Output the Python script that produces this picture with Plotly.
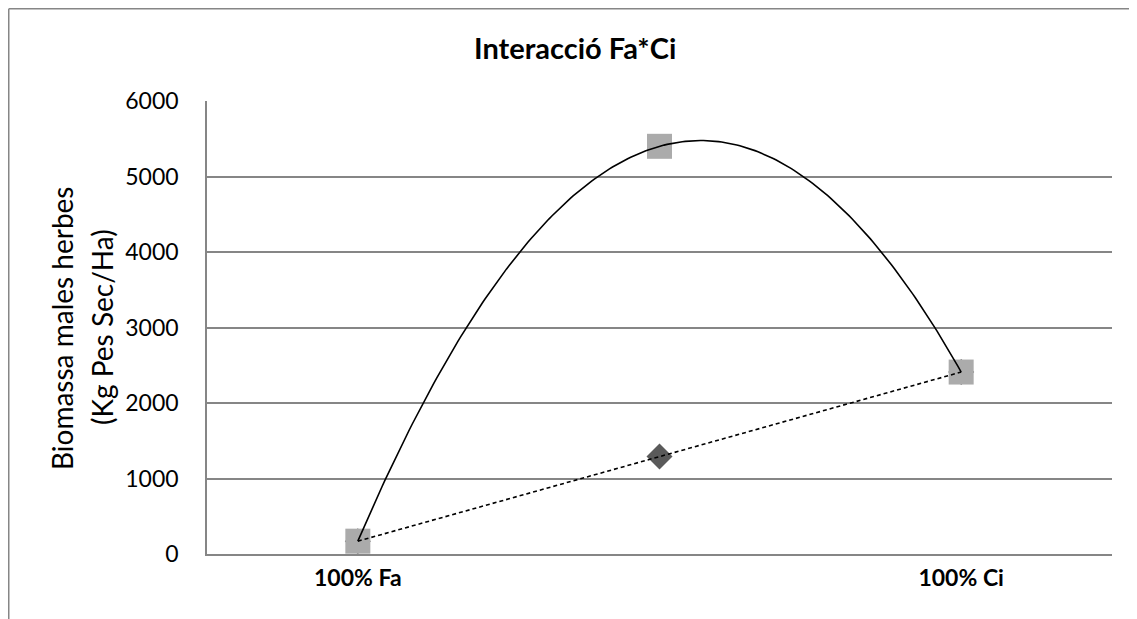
"""Interaction plot Fa*Ci: weed biomass, with Excel-style trendlines."""

import numpy as np
import plotly.graph_objects as go

# --- data -----------------------------------------------------------------
categories = ["100% Fa", "", "100% Ci"]
series_diamond = [170, 1290, 2410]   # dark grey diamonds (linear trendline)
series_square = [170, 5400, 2410]    # light grey squares (2nd order trendline)
y_ticks = [0, 1000, 2000, 3000, 4000, 5000, 6000]

title_text = "Interacció Fa*Ci"
y_title_lines = ["Biomassa males herbes", "(Kg Pes Sec/Ha)"]

# --- geometry (figure pixels; the page body adds an 8px offset) ------------
W, H = 1137, 619
PLOT_L, PLOT_R, PLOT_T, PLOT_B = 199, 1104, 93, 546
GREY = "#868686"
FONT = "Lato, 'Open Sans', sans-serif"


def px_x(px: float) -> float:
    return (px - PLOT_L) / (PLOT_R - PLOT_L)


def px_y(py: float) -> float:
    return (PLOT_B - py) / (PLOT_B - PLOT_T)


x_idx = np.arange(len(categories))

# trendlines as Excel draws them: fitted on the category index
quad = np.poly1d(np.polyfit(x_idx, series_square, 2))
lin = np.poly1d(np.polyfit(x_idx, series_diamond, 1))
x_fit = np.linspace(x_idx[0], x_idx[-1], 200)

fig = go.Figure()

fig.add_trace(
    go.Scatter(
        x=x_idx,
        y=series_diamond,
        mode="markers",
        marker=dict(symbol="diamond", size=20, color="#5a5a5a"),
        showlegend=False,
    )
)
fig.add_trace(
    go.Scatter(
        x=x_idx,
        y=series_square,
        mode="markers",
        marker=dict(symbol="square", size=25, color="#ababab"),
        showlegend=False,
    )
)
fig.add_trace(
    go.Scatter(
        x=x_fit,
        y=quad(x_fit),
        mode="lines",
        line=dict(color="black", width=1.6),
        showlegend=False,
        hoverinfo="skip",
    )
)
fig.add_trace(
    go.Scatter(
        x=x_fit,
        y=lin(x_fit),
        mode="lines",
        line=dict(color="black", width=1.6, dash="4px,3px"),
        showlegend=False,
        hoverinfo="skip",
    )
)

annotations = [
    dict(
        text=f"<b>{title_text}</b>",
        x=px_x(567), y=px_y(39), xref="paper", yref="paper",
        xanchor="center", yanchor="middle", showarrow=False,
        font=dict(family=FONT, size=29, color="black"),
    ),
    dict(
        text=y_title_lines[0],
        x=px_x(54), y=px_y(320), xref="paper", yref="paper",
        xanchor="center", yanchor="middle", showarrow=False, textangle=-90,
        font=dict(family=FONT, size=28, color="black"),
    ),
    dict(
        text=y_title_lines[1],
        x=px_x(94), y=px_y(319), xref="paper", yref="paper",
        xanchor="center", yanchor="middle", showarrow=False, textangle=-90,
        font=dict(family=FONT, size=28, color="black"),
    ),
]

# chart-area border: only its top and left edges are inside the window
border = dict(color=GREY, width=1.5)
shapes = [
    dict(type="line", xref="paper", yref="paper", layer="below",
         x0=px_x(0.75), x1=px_x(W + 40), y0=px_y(0.75), y1=px_y(0.75), line=border),
    dict(type="line", xref="paper", yref="paper", layer="below",
         x0=px_x(0.75), x1=px_x(0.75), y0=px_y(0.75), y1=px_y(H + 40), line=border),
]

fig.update_layout(
    width=W,
    height=H,
    margin=dict(l=PLOT_L, r=W - PLOT_R, t=PLOT_T, b=H - PLOT_B, pad=0),
    paper_bgcolor="white",
    plot_bgcolor="white",
    showlegend=False,
    annotations=annotations,
    shapes=shapes,
    xaxis=dict(
        range=[-0.5, len(categories) - 0.5],
        tickvals=list(x_idx),
        ticktext=[f"<b>{c}</b>" if c else "" for c in categories],
        showgrid=False,
        zeroline=False,
        showline=True,
        linecolor=GREY,
        linewidth=1.5,
        ticks="",
        ticklabelstandoff=3,
        tickfont=dict(family=FONT, size=23, color="black"),
    ),
    yaxis=dict(
        range=[0, 6000],
        tickvals=y_ticks,
        showgrid=True,
        gridcolor=GREY,
        gridwidth=1.5,
        zeroline=False,
        showline=True,
        linecolor=GREY,
        linewidth=1.5,
        ticks="",
        ticklabelstandoff=22,
        tickfont=dict(family=FONT, size=23, color="black"),
    ),
)

fig.write_html("out.html")
